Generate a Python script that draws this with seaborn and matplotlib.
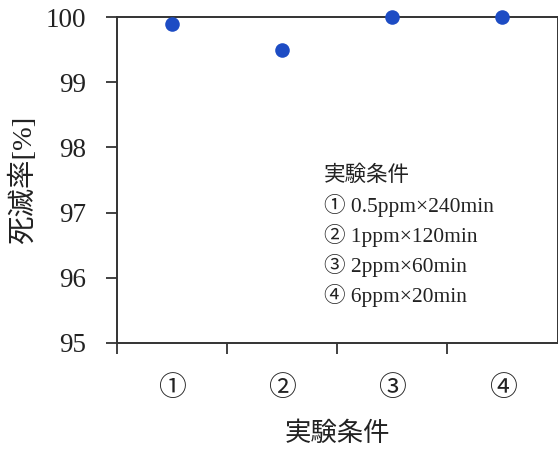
import numpy as np
import pandas as pd
import seaborn as sns
import matplotlib.pyplot as plt
from matplotlib.ticker import FixedLocator

conditions = ["①", "②", "③", "④"]
kill_rate = [99.9, 99.5, 100.0, 100.0]
legend_lines = ["実験条件", "① 0.5ppm×240min", "② 1ppm×120min", "③ 2ppm×60min", "④ 6ppm×20min"]

df = pd.DataFrame({"pos": np.arange(1, len(conditions) + 1), "rate": kill_rate})

sns.set_style("ticks")
fonts = ["Liberation Serif", "Noto Sans CJK JP", "DejaVu Sans"]
plt.rcParams["font.family"] = fonts

fig = plt.figure(figsize=(5.58, 4.5), dpi=100)
ax = fig.add_axes([0.2097, 0.238, 0.7895, 0.724])

sns.scatterplot(data=df, x="pos", y="rate", ax=ax, s=110, color="#1d4cc4",
                edgecolor="#1d4cc4", linewidth=0, clip_on=False, zorder=5, legend=False)

ax.set_xlim(0.5, 4.5)
ax.set_ylim(95, 100)
ax.set_yticks([95, 96, 97, 98, 99, 100])
ax.set_xticks(df["pos"])
ax.set_xticklabels(conditions, fontsize=20, color="#222222")
ax.xaxis.set_minor_locator(FixedLocator([0.5, 1.5, 2.5, 3.5]))
ax.tick_params(axis="x", which="major", length=0, pad=24)
ax.tick_params(axis="x", which="minor", length=8, width=1.3, direction="out", color="#333333")
ax.tick_params(axis="y", length=8, width=1.3, direction="out", labelsize=19.5, color="#333333",
               labelcolor="#222222", pad=14)

for side in ["left", "right", "top", "bottom"]:
    ax.spines[side].set_visible(True)
    ax.spines[side].set_linewidth(1.4)
    ax.spines[side].set_color("#333333")

ax.set_xlabel("実験条件", fontsize=19, color="#222222", labelpad=14)
ax.set_ylabel("死滅率[%]", fontsize=20.5, color="#222222", labelpad=6)

ax.text(0.47, 0.543, "\n".join(legend_lines), transform=ax.transAxes, fontsize=15.5,
        va="top", ha="left", linespacing=1.4, color="#222222")

fig.savefig("out.png", dpi=100)
